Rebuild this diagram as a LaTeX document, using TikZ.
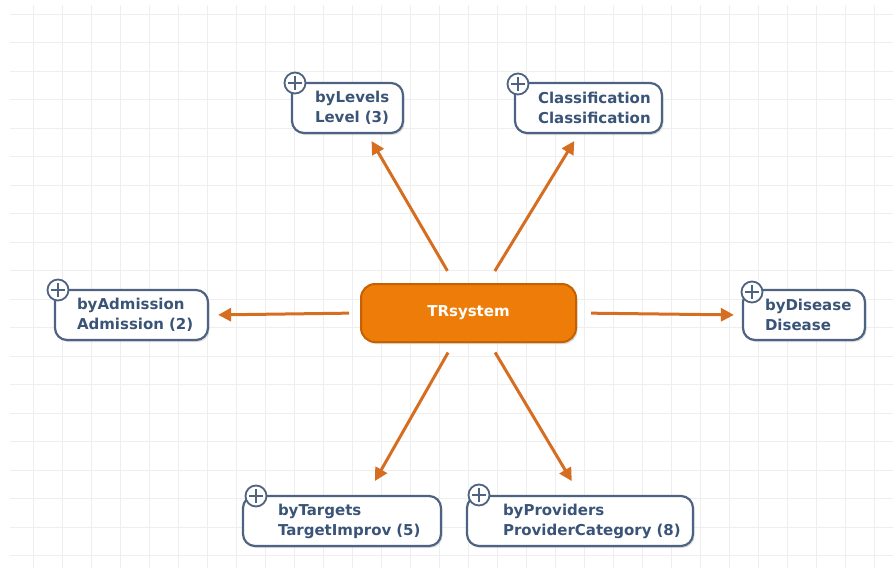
\documentclass[tikz,border=0pt]{standalone}
\usepackage{fontspec}
\setmainfont{DejaVu Sans}
\usetikzlibrary{arrows.meta,shadows}
\definecolor{slate}{RGB}{78,99,130}
\definecolor{slatetext}{RGB}{58,84,120}
\definecolor{hubfill}{RGB}{238,124,8}
\definecolor{hubedge}{RGB}{198,96,0}
\definecolor{linkcol}{RGB}{214,110,34}
\definecolor{gridcol}{RGB}{238,238,238}
\hyphenpenalty=10000
\tikzset{
  leaf/.style={rectangle, draw=slate, line width=2.2pt, fill=white, rounded corners=12pt,
    minimum height=50pt, inner xsep=0pt, align=left, text=slatetext,
    font=\bfseries\fontsize{15}{20}\selectfont,
    drop shadow={shadow xshift=1.5pt, shadow yshift=-2pt, opacity=0.25}},
  hubbox/.style={rectangle, draw=hubedge, line width=2pt, fill=hubfill, rounded corners=14pt,
    text=white, font=\bfseries\fontsize{15}{20}\selectfont,
    drop shadow={shadow xshift=1.5pt, shadow yshift=-2pt, opacity=0.3}},
  plus/.style={circle, draw=slate, line width=1.8pt, fill=white, minimum size=21pt, inner sep=0pt,
    path picture={
      \draw[slate, line width=2pt, shorten <=3.5pt, shorten >=3.5pt]
        (path picture bounding box.west) -- (path picture bounding box.east);
      \draw[slate, line width=2pt, shorten <=3.5pt, shorten >=3.5pt]
        (path picture bounding box.north) -- (path picture bounding box.south);}},
  link/.style={draw=linkcol, line width=3pt, -{Triangle[length=13pt,width=13pt]}},
  gridline/.style={draw=gridcol, line width=0.8pt}
}
\begin{document}
\begin{tikzpicture}[x=1pt, y=-1pt]
  \useasboundingbox (0,0) rectangle (893,568);
  % Grid
  \foreach \gx in {33,62,...,893}
    \draw[gridline] (\gx,5) -- (\gx,568);
  \foreach \gy in {14,42.5,...,568}
    \draw[gridline] (10,\gy) -- (893,\gy);
  % Nodes
  \node (hub) [hubbox, minimum width=215pt, minimum height=58pt] at (468.5,313) {\raisebox{-2pt}{TRsystem}};
  \node (lv) [leaf, minimum width=111pt, text width=65pt] at (347.5,108) {byLevels\\Level~(3)};
  \node (cls) [leaf, minimum width=147pt, text width=101pt] at (588.5,108) {Classification\\Classification};
  \node (adm) [leaf, minimum width=153pt, text width=109pt] at (131.5,315) {byAdmission\\Admission~(2)};
  \node (dis) [leaf, minimum width=122pt, text width=78pt] at (804,315) {byDisease\\Disease};
  \node (tgt) [leaf, minimum width=198pt, text width=128pt] at (342,521) {byTargets\\TargetImprov~(5)};
  \node (prv) [leaf, minimum width=226pt, text width=154pt] at (580,521) {byProviders\\ProviderCategory~(8)};
  % Expand buttons
  \node (lv-plus) [plus] at (295,83) {};
  \node (cls-plus) [plus] at (518,84) {};
  \node (adm-plus) [plus] at (58,290) {};
  \node (dis-plus) [plus] at (752,292) {};
  \node (tgt-plus) [plus] at (256,496) {};
  \node (prv-plus) [plus] at (479,495) {};
  % Arrows
  \draw[link, shorten <=14pt, shorten >=8pt] ([xshift=-14pt]hub.north) -- ([xshift=20pt]lv.south);
  \draw[link, shorten <=14pt, shorten >=8pt] ([xshift=19pt]hub.north) -- ([xshift=-10pt]cls.south);
  \draw[link, shorten <=11pt, shorten >=9pt] (hub.west) -- (adm.east);
  \draw[link, shorten <=14pt, shorten >=8pt] (hub.east) -- (dis.west);
  \draw[link, shorten <=11pt, shorten >=16pt] ([xshift=-15pt]hub.south) -- ([xshift=25pt]tgt.north);
  \draw[link, shorten <=11pt, shorten >=16pt] ([xshift=21pt]hub.south) -- (prv.north);
\end{tikzpicture}
\end{document}
